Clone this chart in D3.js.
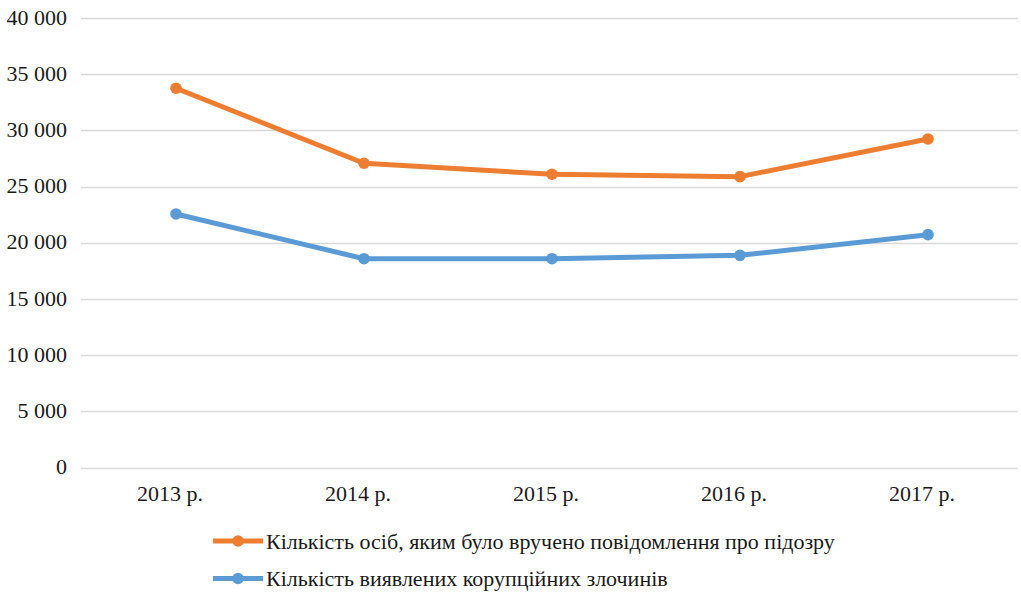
<!DOCTYPE html>
<html>
<head>
<meta charset="utf-8">
<script src="https://cdn.jsdelivr.net/npm/d3@7"></script>
<style>
  body { margin: 0; background: #fff; }
</style>
</head>
<body>
<div id="chart"></div>
<script>
// chart data
var years = ["2013 р.", "2014 р.", "2015 р.", "2016 р.", "2017 р."];
var suspects = [33750, 27080, 26100, 25890, 29240];
var crimes = [22570, 18590, 18590, 18890, 20730];
var yTicks = [0, 5000, 10000, 15000, 20000, 25000, 30000, 35000, 40000];
var seriesNames = [
  "Кількість осіб, яким було вручено повідомлення про підозру",
  "Кількість виявлених корупційних злочинів"
];

var width = 1021, height = 603;
var fontName = "'Liberation Serif'";
var fontSize = 22;

var svg = d3.select("#chart")
  .append("svg")
  .attr("width", width)
  .attr("height", height);

var x = d3.scalePoint()
  .domain(years)
  .range([82, 1022])
  .padding(0.5);

var y = d3.scaleLinear()
  .domain([0, 40000])
  .range([467.7, 18]);

var fmt = function(v) {
  return d3.format(",")(v).replace(/,/g, " ");
};

// gridlines
svg.append("g")
  .selectAll("line")
  .data(yTicks)
  .enter()
  .append("line")
  .attr("x1", 81)
  .attr("x2", 1018)
  .attr("y1", function(d) { return Math.round(y(d)) + 0.5; })
  .attr("y2", function(d) { return Math.round(y(d)) + 0.5; })
  .attr("stroke", "#d9d9d9")
  .attr("stroke-width", 1.5);

// y labels
svg.append("g")
  .selectAll("text")
  .data(yTicks)
  .enter()
  .append("text")
  .attr("x", 67)
  .attr("y", function(d) { return y(d) + 6.5; })
  .attr("text-anchor", "end")
  .attr("font-family", fontName)
  .attr("font-size", fontSize)
  .attr("fill", "#1a1a1a")
  .text(fmt);

// x labels
svg.append("g")
  .selectAll("text")
  .data(years)
  .enter()
  .append("text")
  .attr("x", function(d) { return x(d) - 6; })
  .attr("y", 501)
  .attr("text-anchor", "middle")
  .attr("font-family", fontName)
  .attr("font-size", fontSize)
  .attr("fill", "#1a1a1a")
  .text(function(d) { return d; });

var series = [
  { values: suspects, color: "#ed7d31" },
  { values: crimes, color: "#5b9bd5" }
];

var line = d3.line()
  .x(function(d, i) { return x(years[i]); })
  .y(function(d) { return y(d); });

series.forEach(function(s) {
  svg.append("path")
    .datum(s.values)
    .attr("d", line)
    .attr("fill", "none")
    .attr("stroke", s.color)
    .attr("stroke-width", 5)
    .attr("stroke-linejoin", "round");

  svg.append("g")
    .selectAll("circle")
    .data(s.values)
    .enter()
    .append("circle")
    .attr("cx", function(d, i) { return x(years[i]); })
    .attr("cy", function(d) { return y(d); })
    .attr("r", 5.8)
    .attr("fill", s.color);
});

// legend
var legend = svg.append("g");
series.forEach(function(s, i) {
  var ly = 541 + i * 37.5;
  legend.append("line")
    .attr("x1", 213).attr("x2", 263)
    .attr("y1", ly).attr("y2", ly)
    .attr("stroke", s.color)
    .attr("stroke-width", 5);
  legend.append("circle")
    .attr("cx", 238).attr("cy", ly)
    .attr("r", 5.8)
    .attr("fill", s.color);
  legend.append("text")
    .attr("x", 266)
    .attr("y", ly + 7.5)
    .attr("font-family", fontName)
    .attr("font-size", fontSize)
    .attr("fill", "#1a1a1a")
    .text(seriesNames[i]);
});
</script>
</body>
</html>
